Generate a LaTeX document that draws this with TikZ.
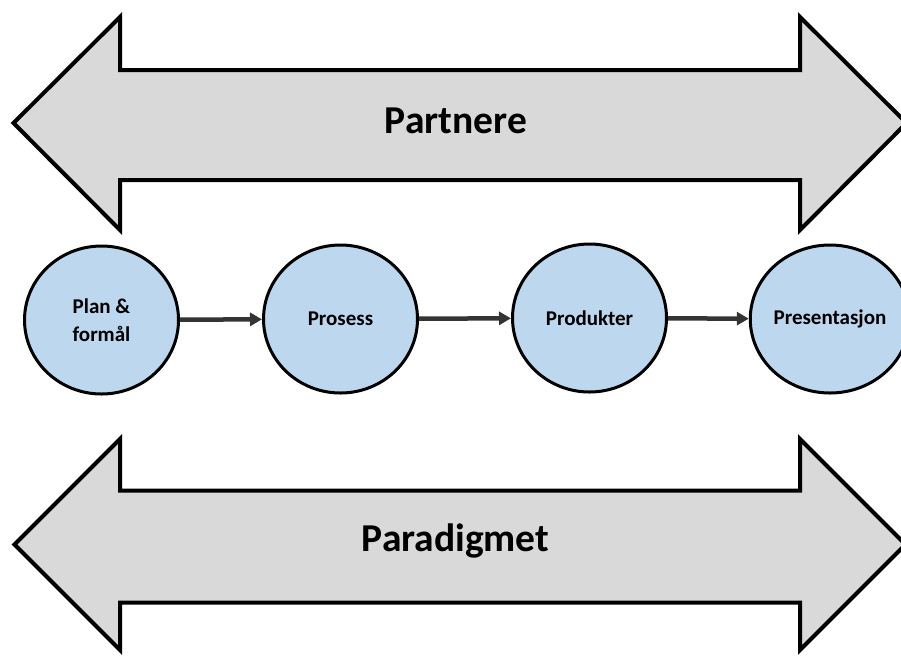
\documentclass[tikz,border=0pt]{standalone}
\usepackage{fontspec}
\setmainfont{Carlito}
\usetikzlibrary{shapes.geometric,arrows.meta}
\definecolor{arrowgray}{RGB}{217,217,217}
\definecolor{circblue}{RGB}{189,215,238}
\definecolor{linkgray}{RGB}{52,52,52}
\tikzset{
  bigarrow/.style={draw=black, fill=arrowgray, line width=4pt, line join=miter},
  bigtext/.style={font=\fontsize{39.5}{47}\selectfont\bfseries, text=black},
  stage/.style={ellipse, draw=black, fill=circblue, line width=3pt, minimum width=154pt, minimum height=148pt, inner sep=0pt, align=center, font=\fontsize{21}{28.5}\selectfont\bfseries},
  link/.style={draw=linkgray, line width=4.5pt, -{Triangle[length=12pt,width=13pt]}}
}
\begin{document}
\begin{tikzpicture}[x=1pt,y=-1pt]
\useasboundingbox (0,0) rectangle (901,657);
% top double arrow
\draw[bigarrow] (13.5,123) -- (120,17) -- (120,70) -- (800,70) -- (800,17) -- (906.5,123)
  -- (800,230) -- (800,180) -- (120,180) -- (120,230) -- cycle;
\node[bigtext] (partnere) at (456,121) {Partnere};
% bottom double arrow
\draw[bigarrow] (14.5,544.5) -- (120,439) -- (120,490.5) -- (800,490.5) -- (800,439) -- (905.5,544.5)
  -- (800,650) -- (800,602.5) -- (120,602.5) -- (120,650) -- cycle;
\node[bigtext] (paradigmet) at (455.5,541) {Paradigmet};
% stages
\node[stage] (plan) at (101.5,320) {Plan \&\\formål};
\node[stage] (prosess) at (340.5,319) {Prosess};
\node[stage] (produkter) at (589.5,318) {Produkter};
\node[stage] (presentasjon) at (830,319) {Presentasjon};
% links
\draw[link] (plan) -- (prosess);
\draw[link] (prosess) -- (produkter);
\draw[link] (produkter) -- (presentasjon);
\end{tikzpicture}
\end{document}
